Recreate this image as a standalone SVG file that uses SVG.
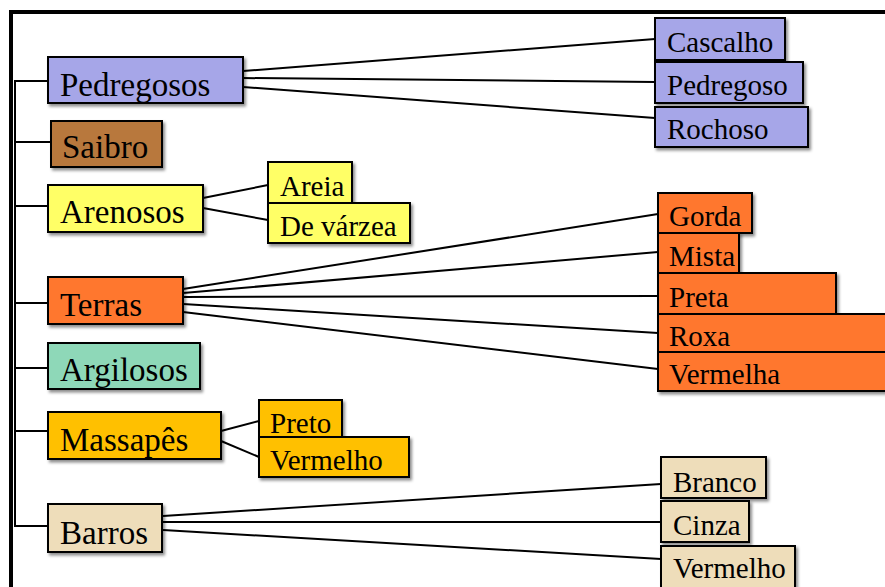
<svg xmlns="http://www.w3.org/2000/svg" width="885" height="587" viewBox="0 0 885 587">
<defs>
<filter id="sh" x="-10%" y="-20%" width="130%" height="150%">
<feDropShadow dx="2" dy="2.5" stdDeviation="1.5" flood-color="#000" flood-opacity="0.45"/>
</filter>
</defs>
<style>
rect.b{stroke:#000;stroke-width:2;filter:url(#sh)}
text{font-family:"Liberation Serif","Times New Roman",serif;fill:#000}
.m{font-size:33px}
.c{font-size:29px}
.lav{fill:#A6A6E8}
.brn{fill:#B8783C}
.yel{fill:#FFFF66}
.org{fill:#FF772F}
.mint{fill:#8ED8B8}
.gold{fill:#FFC000}
.bei{fill:#EEDDBA}
#connectors line{stroke:#000;stroke-width:2}
</style>
<rect width="885" height="587" fill="#fff"/>
<g id="frame">
<line x1="9" y1="12" x2="885" y2="12" stroke="#000" stroke-width="4"/>
<line x1="11" y1="10" x2="11" y2="587" stroke="#000" stroke-width="4"/>
</g>
<g id="connectors">
<line x1="15" y1="80" x2="15" y2="527"/>
<line x1="15" y1="81" x2="48" y2="81"/>
<line x1="15" y1="142" x2="51" y2="142"/>
<line x1="15" y1="206" x2="48" y2="206"/>
<line x1="15" y1="303" x2="48" y2="303"/>
<line x1="15" y1="368" x2="48" y2="368"/>
<line x1="15" y1="431" x2="48" y2="431"/>
<line x1="15" y1="526" x2="48" y2="526"/>
<line x1="243" y1="71" x2="655" y2="39"/>
<line x1="243" y1="78" x2="655" y2="82"/>
<line x1="243" y1="87" x2="655" y2="118"/>
<line x1="203" y1="198" x2="268" y2="185"/>
<line x1="203" y1="208" x2="268" y2="220"/>
<line x1="183" y1="289" x2="658" y2="214"/>
<line x1="183" y1="293" x2="658" y2="252"/>
<line x1="183" y1="297" x2="658" y2="296"/>
<line x1="183" y1="304" x2="658" y2="333"/>
<line x1="183" y1="312" x2="658" y2="369"/>
<line x1="221" y1="431" x2="259" y2="421"/>
<line x1="221" y1="441" x2="259" y2="457"/>
<line x1="163" y1="516" x2="661" y2="484"/>
<line x1="163" y1="522" x2="661" y2="522"/>
<line x1="163" y1="530" x2="661" y2="559"/>
</g>
<g id="pedregosos"><rect class="b lav" x="48" y="57" width="195" height="46"/><text class="m" x="60" y="96">Pedregosos</text></g>
<g id="saibro"><rect class="b brn" x="51" y="121" width="111" height="46"/><text class="m" x="62" y="158">Saibro</text></g>
<g id="arenosos"><rect class="b yel" x="48" y="185" width="155" height="47"/><text class="m" x="60" y="223">Arenosos</text></g>
<g id="terras"><rect class="b org" x="48" y="277" width="135" height="47"/><text class="m" x="60" y="316">Terras</text></g>
<g id="argilosos"><rect class="b mint" x="48" y="343" width="152" height="46"/><text class="m" x="60" y="381">Argilosos</text></g>
<g id="massapes"><rect class="b gold" x="48" y="412" width="173" height="47"/><text class="m" x="60" y="451">Massapês</text></g>
<g id="barros"><rect class="b bei" x="48" y="504" width="114" height="48"/><text class="m" x="60" y="544">Barros</text></g>

<g id="cascalho"><rect class="b lav" x="655" y="18" width="130" height="42"/><text class="c" x="667" y="52">Cascalho</text></g>
<g id="pedregoso"><rect class="b lav" x="655" y="62" width="148" height="41"/><text class="c" x="667" y="95">Pedregoso</text></g>
<g id="rochoso"><rect class="b lav" x="655" y="107" width="153" height="40"/><text class="c" x="667" y="139">Rochoso</text></g>

<g id="areia"><rect class="b yel" x="268" y="162" width="84" height="41"/><text class="c" x="280" y="196">Areia</text></g>
<g id="devarzea"><rect class="b yel" x="268" y="203" width="142" height="40"/><text class="c" x="280" y="236">De várzea</text></g>

<g id="gorda"><rect class="b org" x="658" y="193" width="94" height="40"/><text class="c" x="669" y="226">Gorda</text></g>
<g id="mista"><rect class="b org" x="658" y="233" width="81" height="40"/><text class="c" x="669" y="266">Mista</text></g>
<g id="preta"><rect class="b org" x="658" y="273" width="178" height="41"/><text class="c" x="669" y="307">Preta</text></g>
<g id="roxa"><rect class="b org" x="658" y="314" width="240" height="38"/><text class="c" x="669" y="346">Roxa</text></g>
<g id="vermelha"><rect class="b org" x="658" y="352" width="240" height="39"/><text class="c" x="669" y="384">Vermelha</text></g>

<g id="preto"><rect class="b gold" x="259" y="400" width="83" height="37"/><text class="c" x="270" y="433">Preto</text></g>
<g id="vermelho1"><rect class="b gold" x="259" y="437" width="150" height="40"/><text class="c" x="270" y="470">Vermelho</text></g>

<g id="branco"><rect class="b bei" x="661" y="457" width="105" height="41"/><text class="c" x="673" y="492">Branco</text></g>
<g id="cinza"><rect class="b bei" x="661" y="501" width="88" height="41"/><text class="c" x="673" y="535">Cinza</text></g>
<g id="vermelho2"><rect class="b bei" x="661" y="546" width="134" height="50"/><text class="c" x="673" y="578">Vermelho</text></g>
</svg>
